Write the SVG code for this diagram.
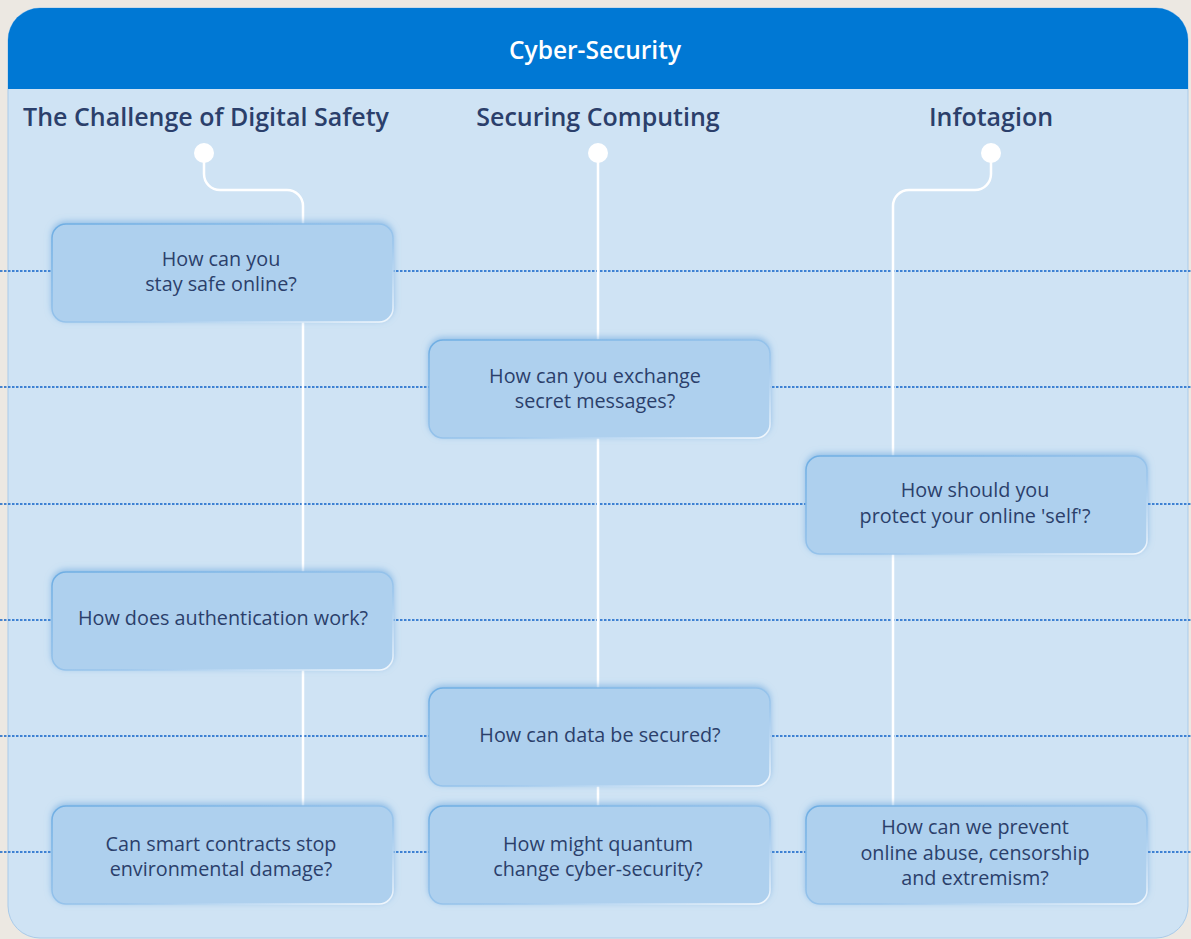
<svg xmlns="http://www.w3.org/2000/svg" width="1191" height="939" viewBox="0 0 1191 939">
<defs>
<style>
.hdr{font-family:"Open Sans","Noto Sans",sans-serif;font-weight:600;font-size:25px;fill:#2B3F6B;text-anchor:middle}
.title{font-family:"Open Sans","Noto Sans",sans-serif;font-weight:600;font-size:24.5px;fill:#ffffff;text-anchor:middle}
.lbl{font-family:"Open Sans","Noto Sans",sans-serif;font-weight:500;font-size:19.8px;fill:#2B3F6B;text-anchor:middle}
.box{fill:#AED0EE;stroke:url(#edge);stroke-width:1.5;filter:url(#sh)}
.dot{stroke:#0F62C8;stroke-width:1.5;stroke-dasharray:2.5 1.5;fill:none}
.wire{stroke:#ffffff;stroke-width:2.5;fill:none}
</style>
<linearGradient id="edge" x1="0" y1="0" x2="1" y2="1">
<stop offset="0" stop-color="#6FAEE3"/>
<stop offset="0.6" stop-color="#9CC6EC"/>
<stop offset="1" stop-color="#F2F8FD"/>
</linearGradient>
<filter id="sh" x="-10%" y="-20%" width="120%" height="140%">
<feGaussianBlur in="SourceAlpha" stdDeviation="3"/>
<feOffset dx="0" dy="-2" result="b"/>
<feFlood flood-color="#5E9FDB" flood-opacity="0.55"/>
<feComposite in2="b" operator="in"/>
<feMerge><feMergeNode/><feMergeNode in="SourceGraphic"/></feMerge>
</filter>
</defs>
<rect x="0" y="0" width="1191" height="939" fill="#ECE8E2"/>
<g id="panel">
<rect x="8" y="8" width="1180" height="930" rx="32" fill="#CFE3F4" stroke="#A9CBEA" stroke-width="1"/>
<path d="M8 89 V40 A32 32 0 0 1 40 8 H1156 A32 32 0 0 1 1188 40 V89 Z" fill="#0078D4"/>
<text class="title" x="595" y="59">Cyber-Security</text>
</g>
<g id="dotted-lines">
<line class="dot" x1="0" y1="271" x2="1191" y2="271"/>
<line class="dot" x1="0" y1="387" x2="1191" y2="387"/>
<line class="dot" x1="0" y1="504" x2="1191" y2="504"/>
<line class="dot" x1="0" y1="620" x2="1191" y2="620"/>
<line class="dot" x1="0" y1="736" x2="1191" y2="736"/>
<line class="dot" x1="0" y1="852" x2="1191" y2="852"/>
</g>
<g id="headers">
<text class="hdr" x="206" y="126">The Challenge of Digital Safety</text>
<text class="hdr" x="598" y="126">Securing Computing</text>
<text class="hdr" x="991" y="126">Infotagion</text>
</g>
<g id="connectors">
<path class="wire" d="M204 153 V174 A16 16 0 0 0 220 190 H287 A16 16 0 0 1 303 206 V806"/>
<path class="wire" d="M598 153 V806"/>
<path class="wire" d="M991 153 V174 A16 16 0 0 1 975 190 H909 A16 16 0 0 0 893 206 V806"/>
<circle cx="204" cy="153" r="10" fill="#ffffff"/>
<circle cx="598" cy="153" r="10" fill="#ffffff"/>
<circle cx="991" cy="153" r="10" fill="#ffffff"/>
</g>
<g id="n1"><rect class="box" x="52" y="224" width="341" height="98" rx="14"/>
<text class="lbl" x="221" y="266">How can you</text><text class="lbl" x="221" y="291">stay safe online?</text></g>
<g id="n2"><rect class="box" x="429" y="340" width="341" height="98" rx="14"/>
<text class="lbl" x="595" y="383">How can you exchange</text><text class="lbl" x="595" y="408">secret messages?</text></g>
<g id="n3"><rect class="box" x="806" y="456" width="341" height="98" rx="14"/>
<text class="lbl" x="975" y="497">How should you</text><text class="lbl" x="975" y="523">protect your online 'self'?</text></g>
<g id="n4"><rect class="box" x="52" y="572" width="341" height="98" rx="14"/>
<text class="lbl" x="223" y="625">How does authentication work?</text></g>
<g id="n5"><rect class="box" x="429" y="688" width="341" height="98" rx="14"/>
<text class="lbl" x="600" y="742">How can data be secured?</text></g>
<g id="n6"><rect class="box" x="52" y="806" width="341" height="98" rx="14"/>
<text class="lbl" x="221" y="851">Can smart contracts stop</text><text class="lbl" x="221" y="876">environmental damage?</text></g>
<g id="n7"><rect class="box" x="429" y="806" width="341" height="98" rx="14"/>
<text class="lbl" x="598" y="851">How might quantum</text><text class="lbl" x="598" y="876">change cyber-security?</text></g>
<g id="n8"><rect class="box" x="806" y="806" width="341" height="98" rx="14"/>
<text class="lbl" x="975" y="834">How can we prevent</text><text class="lbl" x="975" y="860">online abuse, censorship</text><text class="lbl" x="975" y="885">and extremism?</text></g>
</svg>
